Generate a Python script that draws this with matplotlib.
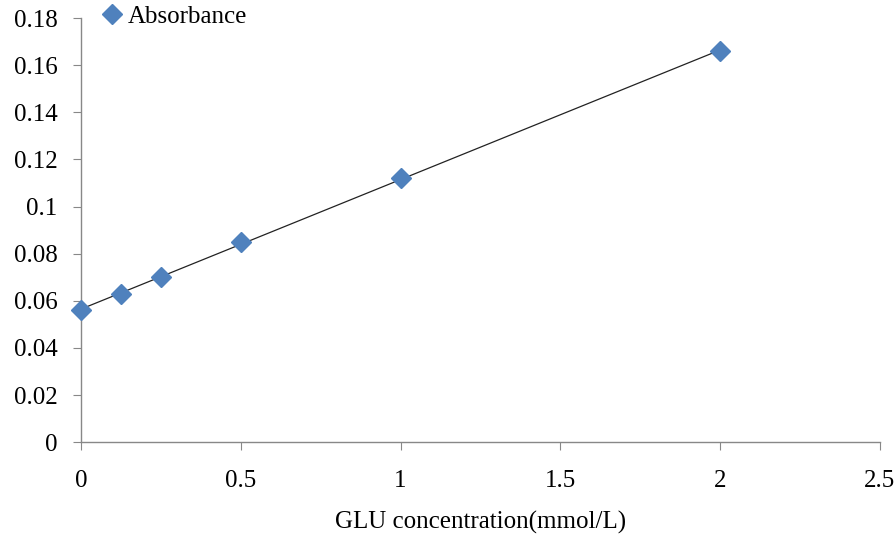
import numpy as np
import matplotlib
matplotlib.use("Agg")
import matplotlib.pyplot as plt
from matplotlib.lines import Line2D

concentration = [0, 0.125, 0.25, 0.5, 1, 2]
absorbance = [0.056, 0.063, 0.070, 0.085, 0.112, 0.166]
x_ticks = [0, 0.5, 1, 1.5, 2, 2.5]
x_tick_labels = ["0", "0.5", "1", "1.5", "2", "2.5"]
y_ticks = [0, 0.02, 0.04, 0.06, 0.08, 0.1, 0.12, 0.14, 0.16, 0.18]
y_tick_labels = ["0", "0.02", "0.04", "0.06", "0.08", "0.1", "0.12", "0.14", "0.16", "0.18"]

plt.rcParams['font.family'] = ['Liberation Serif', 'DejaVu Serif']

fig = plt.figure(figsize=(8.95, 5.34), dpi=100)
ax = fig.add_axes([0.0905, 0.172, 0.8925, 0.794])

slope, intercept = np.polyfit(concentration, absorbance, 1)
xf = np.array([min(concentration), max(concentration)])
ax.plot(xf, slope * xf + intercept, color='#222222', lw=0.9, zorder=2)
ax.plot(concentration, absorbance, linestyle='none', marker='D', markersize=10,
        color='#4F81BD', zorder=3, clip_on=False)

ax.set_xlim(0, 2.5)
ax.set_ylim(0, 0.18)
ax.set_xticks(x_ticks)
ax.set_xticklabels(x_tick_labels)
ax.set_yticks(y_ticks)
ax.set_yticklabels(y_tick_labels)
for s in ['top', 'right']:
    ax.spines[s].set_visible(False)
for s in ['left', 'bottom']:
    ax.spines[s].set_color('#888888')
    ax.spines[s].set_linewidth(1.0)
ax.tick_params(axis='both', direction='out', length=6, color='#888888', labelsize=18)
ax.tick_params(axis='x', pad=14)
ax.tick_params(axis='y', pad=11)
ax.set_xlabel('GLU concentration(mmol/L)', fontsize=18, labelpad=14)

handle = Line2D([], [], linestyle='none', marker='D', markersize=10, color='#4F81BD')
fig.legend([handle], ['Absorbance'], loc='upper left', bbox_to_anchor=(0.106, 1.008),
           frameon=False, fontsize=18, handlelength=0.6, handletextpad=0.3,
           borderaxespad=0)

fig.savefig('out.png', dpi=100)
